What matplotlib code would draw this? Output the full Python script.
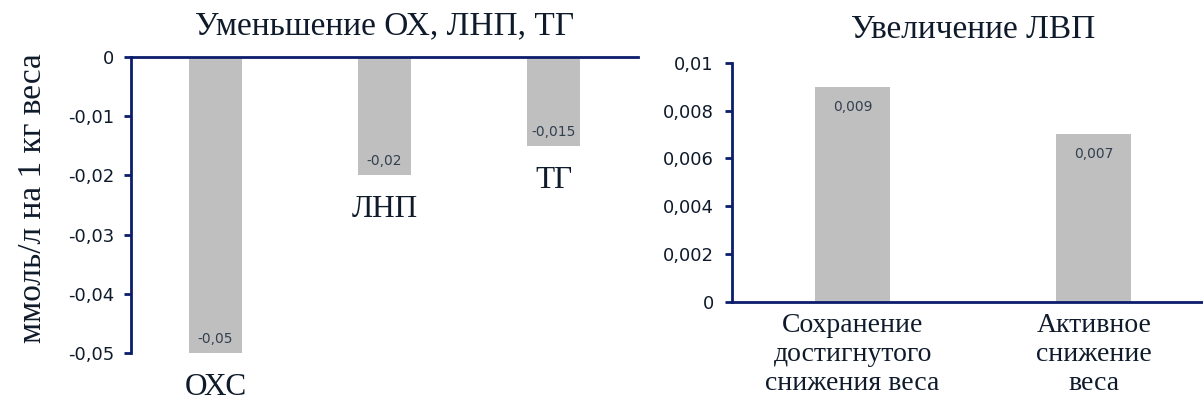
import matplotlib
matplotlib.use("Agg")
import matplotlib.pyplot as plt

# Decrease in lipid fractions, mmol/L per 1 kg of weight
decrease_labels = ["ОХС", "ЛНП", "ТГ"]
decrease_values = [-0.05, -0.02, -0.015]
decrease_ticks = [0, -0.01, -0.02, -0.03, -0.04, -0.05]

# Increase in HDL
hdl_labels = ["Сохранение\nдостигнутого\nснижения веса", "Активное\nснижение\nвеса"]
hdl_values = [0.009, 0.007]
hdl_ticks = [0, 0.002, 0.004, 0.006, 0.008, 0.01]

title_left = "Уменьшение ОХ, ЛНП, ТГ"
title_right = "Увеличение ЛВП"
y_label = "ммоль/л на 1 кг веса"

W, H, DPI = 1203, 403, 100
BAR = "#bfbfbf"
AXIS = "#0b1d6b"
TEXT = "#0f1b2b"
VALUE = "#334050"
SERIF = "Liberation Serif"
SANS = "DejaVu Sans"


def fmt(v):
    s = f"{v:.3f}".rstrip("0").rstrip(".")
    return s.replace(".", ",")


def px_axes(left, top, right, bottom):
    return [left / W, 1 - bottom / H, (right - left) / W, (bottom - top) / H]


fig = plt.figure(figsize=(W / DPI, H / DPI), dpi=DPI)
fig.patch.set_facecolor("white")

# ---- left panel: decreases ----
ax1 = fig.add_axes(px_axes(131, 57, 638, 353))
x1 = list(range(len(decrease_values)))
ax1.bar(x1, decrease_values, width=0.31, color=BAR, zorder=1)
ax1.set_xlim(-0.5, len(x1) - 0.5)
ax1.set_ylim(min(decrease_ticks), 0)
ax1.set_yticks(decrease_ticks)
ax1.set_yticklabels([fmt(t) for t in decrease_ticks], fontfamily=SANS,
                    fontsize=13, color=TEXT)
ax1.set_xticks([])
for side in ("right", "bottom"):
    ax1.spines[side].set_visible(False)
for side in ("left", "top"):
    ax1.spines[side].set_color(AXIS)
    ax1.spines[side].set_linewidth(2)
    ax1.spines[side].set_zorder(3)
ax1.tick_params(axis="y", direction="out", length=5, width=2, color=AXIS, pad=7)

for xi, v, lab in zip(x1, decrease_values, decrease_labels):
    ax1.annotate(fmt(v), xy=(xi, v), xytext=(0, 10), textcoords="offset pixels",
                 ha="center", va="baseline", fontsize=10, fontfamily=SANS,
                 color=VALUE)
    ax1.annotate(lab, xy=(xi, v), xytext=(0, -42), textcoords="offset pixels",
                 ha="center", va="baseline", fontsize=22.5, fontfamily=SERIF,
                 color=TEXT, annotation_clip=False)

ax1.set_title(title_left, fontfamily=SERIF, fontsize=24, color=TEXT, pad=16)
fig.text(33 / W, 1 - 198 / H, y_label, rotation=90, ha="center", va="center",
         fontfamily=SERIF, fontsize=24, color=TEXT)

# ---- right panel: HDL increase ----
ax2 = fig.add_axes(px_axes(732, 62.7, 1214.5, 302))
x2 = list(range(len(hdl_values)))
ax2.bar(x2, hdl_values, width=0.31, color=BAR, zorder=1)
ax2.set_xlim(-0.5, len(x2) - 0.5)
ax2.set_ylim(0, max(hdl_ticks))
ax2.set_yticks(hdl_ticks)
ax2.set_yticklabels([fmt(t) for t in hdl_ticks], fontfamily=SANS,
                    fontsize=13, color=TEXT)
ax2.set_xticks(x2)
ax2.set_xticklabels(hdl_labels, fontfamily=SERIF, fontsize=20, color=TEXT,
                    linespacing=1.2)
for side in ("right", "top"):
    ax2.spines[side].set_visible(False)
for side in ("left", "bottom"):
    ax2.spines[side].set_color(AXIS)
    ax2.spines[side].set_linewidth(2)
    ax2.spines[side].set_zorder(3)
ax2.tick_params(axis="y", direction="out", length=5, width=2, color=AXIS, pad=8)
ax2.tick_params(axis="x", length=0, pad=8)

for xi, v in zip(x2, hdl_values):
    ax2.annotate(fmt(v), xy=(xi, v), xytext=(0, -24), textcoords="offset pixels",
                 ha="center", va="baseline", fontsize=10, fontfamily=SANS,
                 color=VALUE)

ax2.set_title(title_right, fontfamily=SERIF, fontsize=24, color=TEXT, pad=18)

fig.savefig("out.png", dpi=DPI, facecolor="white")
